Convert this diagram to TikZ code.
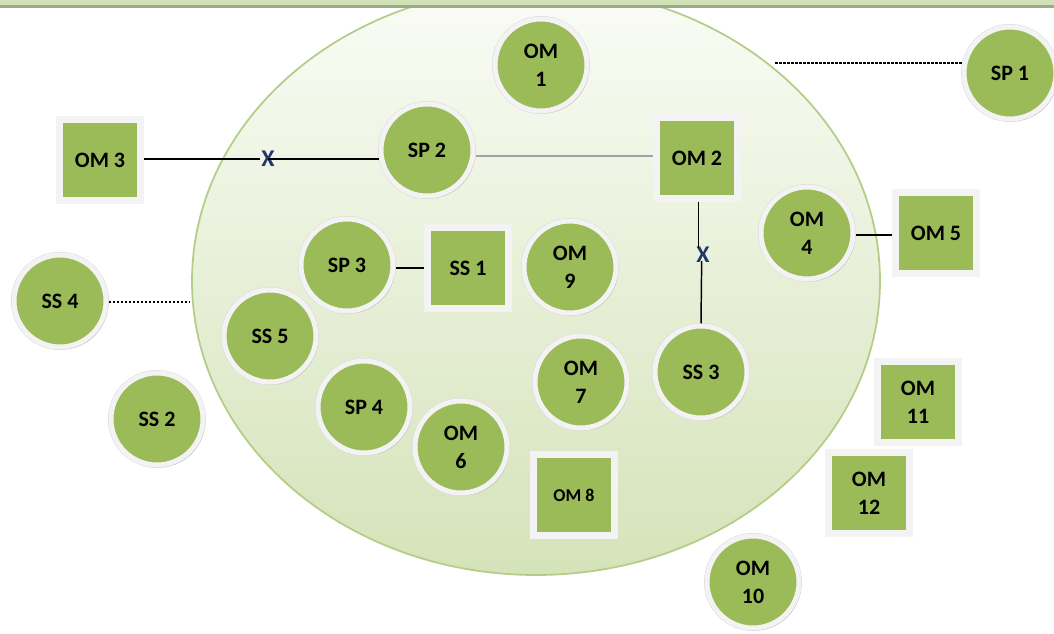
\documentclass[tikz,border=0pt]{standalone}
\usepackage{fontspec}
\setmainfont{Carlito}
\usetikzlibrary{shadows}
\definecolor{leaf}{HTML}{9BBB59}
\definecolor{ring}{HTML}{F3F3F3}
\definecolor{rim}{HTML}{B3CD87}
\definecolor{paleA}{HTML}{FAFCF6}
\definecolor{paleB}{HTML}{D5E3B9}
\definecolor{bandA}{HTML}{D3E2B6}
\definecolor{bandB}{HTML}{9DA98C}
\definecolor{xmark}{HTML}{23356B}
\tikzset{
  lbl/.style={font=\bfseries\fontsize{16.5}{21}\selectfont, text=black, align=center},
  disc/.style={lbl, circle, fill=leaf, draw=ring, line width=3.75pt,
    minimum size=69pt, inner sep=0pt,
    preaction={draw=black!14, line width=4.5pt},
    drop shadow={shadow xshift=1.6pt, shadow yshift=-1.8pt, opacity=0.3, fill=gray}},
  tile/.style={lbl, rectangle, fill=leaf, draw=ring, line width=5pt,
    minimum size=60.5pt, inner sep=0pt,
    drop shadow={shadow xshift=1.2pt, shadow yshift=-1.5pt, opacity=0.35, fill=black!45!leaf}},
  link/.style={draw=black, line width=1.1pt},
  greylink/.style={draw=black!36, line width=2.2pt},
  dashlink/.style={draw=black, line width=0.8pt, dash pattern=on 2.2pt off 0.8pt},
  cut/.style={font=\bfseries\fontsize{18}{18}\selectfont, text=xmark, inner sep=0.5pt}
}
\begin{document}
\begin{tikzpicture}[x=0.75pt, y=-0.75pt]
\useasboundingbox (0,0) rectangle (1054,634);
\fill[white] (0,0) rectangle (1054,634);

% large shaded ellipse
\path[draw=rim, line width=1.3pt, top color=paleA, bottom color=paleB]
  (536,281) ellipse [x radius=258pt, y radius=220.5pt];

% header band
\fill[bandA] (0,0) rectangle (1054,6);
\fill[bandB] (0,5.5) rectangle (1054,8.5);

% round nodes
\node[disc] (om1)  at (541,65)  {OM\\1};
\node[disc] (sp1)  at (1010,73) {SP 1};
\node[disc] (sp2)  at (427,150) {SP 2};
\node[disc] (om4)  at (807,233) {OM\\4};
\node[disc] (sp3)  at (347,265) {SP 3};
\node[disc] (om9)  at (570,267) {OM\\9};
\node[disc] (ss4)  at (60,301)  {SS 4};
\node[disc] (ss5)  at (270,336) {SS 5};
\node[disc] (ss3)  at (701,372) {SS 3};
\node[disc] (om7)  at (581,382) {OM\\7};
\node[disc] (sp4)  at (364,407) {SP 4};
\node[disc] (ss2)  at (157,419) {SS 2};
\node[disc] (om6)  at (461,447) {OM\\6};
\node[disc] (om10) at (753,582) {OM\\10};

% square nodes
\node[tile] (om3)  at (100,160) {OM 3};
\node[tile] (om2)  at (697,158) {OM 2};
\node[tile] (om5)  at (936,233) {OM 5};
\node[tile] (ss1)  at (468,268) {SS 1};
\node[tile, font=\bfseries\fontsize{13.5}{15}\selectfont] (om8) at (574,495) {OM 8};
\node[tile] (om11) at (918,402) {OM\\11};
\node[tile] (om12) at (869,493) {OM\\12};

% cut markers
\node[cut] (x1) at (268,159) {X};
\node[cut] (x2) at (703,255) {X};

% free ends of the dashed leaders
\coordinate (sp1end) at (775,63);
\coordinate (ss4end) at (190,302);

% connectors
\draw[link] (om3.east |- x1.center) -- (x1.west);
\draw[link] (x1.center) -- (sp2.west |- x1.center);
\draw[greylink] ([yshift=-4.5pt]sp2.east) -- ([yshift=-4.5pt]om2.west |- sp2.east);
\draw[link] ([xshift=1pt]om2.south) -- ([xshift=1pt,yshift=-1pt]x2.north west -| om2.south);
\draw[link] ([xshift=-1pt,yshift=2pt]x2.south) -- (ss3.north);
\draw[link] ([yshift=-2.25pt]sp3.east) -- ([yshift=-2.25pt]ss1.west |- sp3.east);
\draw[link] ([yshift=-1.5pt]om4.east) -- ([yshift=-1.5pt]om5.west |- om4.east);
\draw[dashlink] (sp1end) -- (sp1.west |- sp1end);
\draw[dashlink] ([yshift=-0.75pt]ss4.east) -- (ss4end);
\end{tikzpicture}
\end{document}
